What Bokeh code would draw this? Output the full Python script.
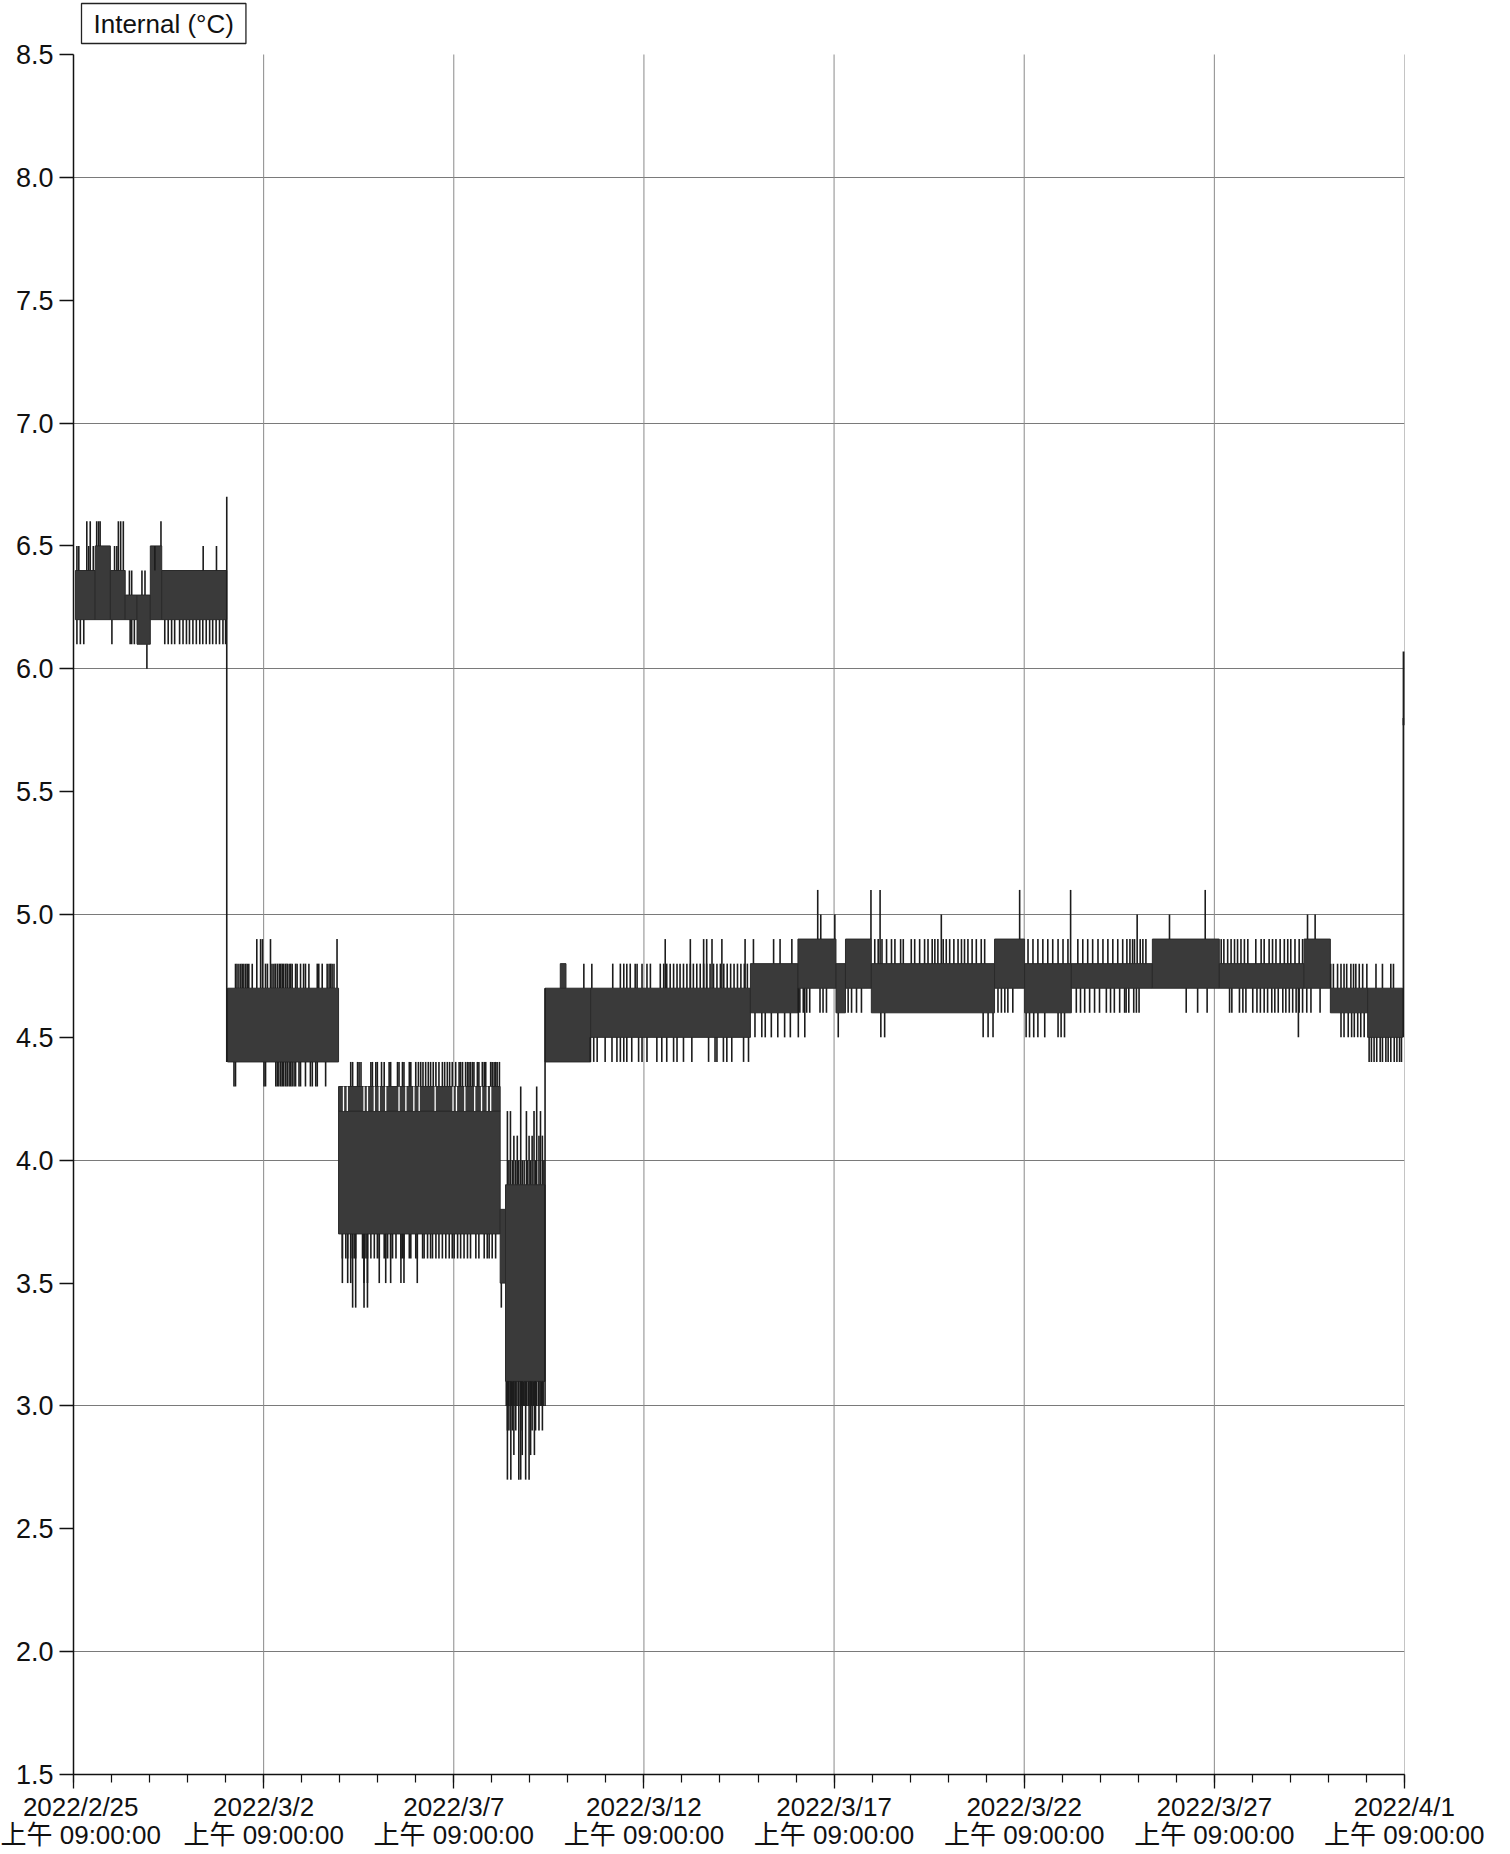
from bokeh.plotting import figure
from bokeh.models import Range1d, FixedTicker, Label, PrintfTickFormatter
from bokeh.embed import file_html
from bokeh.resources import INLINE

# ---------------- axis labels ----------------
tick_days = [0, 5, 10, 15, 20, 25, 30, 35]          # days after 2022/2/25 09:00
tick_dates = ["2022/2/25", "2022/3/2", "2022/3/7", "2022/3/12",
              "2022/3/17", "2022/3/22", "2022/3/27", "2022/4/1"]
tick_time = "上午 09:00:00"
minor_days = list(range(0, 36))
y_ticks = [1.5, 2.0, 2.5, 3.0, 3.5, 4.0, 4.5, 5.0, 5.5, 6.0, 6.5, 7.0, 7.5, 8.0, 8.5]
y_grid = [2.0, 3.0, 4.0, 5.0, 6.0, 7.0, 8.0]
series_name = "Internal (°C)"

# ---------------- dense bands of readings (day start, day end, low °C, high °C) ----------------
band_start = [0.05, 0.57, 0.97, 1.36, 1.67, 2.02, 2.32, 4.05, 6.97, 6.97, 11.22, 11.36,
              12.40, 12.80, 13.60, 17.80, 19.05, 20.05, 20.30, 20.98, 24.22, 25.01,
              26.24, 28.37, 30.13, 32.36, 33.05, 34.03]
band_end = [0.57, 0.97, 1.36, 1.67, 2.02, 2.32, 4.03, 6.97, 11.22, 11.22, 11.36, 12.40,
            13.60, 12.95, 17.80, 19.05, 20.05, 20.30, 20.98, 24.22, 25.01, 26.24,
            28.37, 30.13, 32.36, 33.05, 34.03, 34.95]
band_low = [6.2, 6.2, 6.2, 6.2, 6.1, 6.2, 6.2, 4.4, 3.7, 4.2, 3.5, 3.1,
            4.4, 4.7, 4.5, 4.6, 4.7, 4.6, 4.7, 4.6, 4.7, 4.6,
            4.7, 4.7, 4.7, 4.7, 4.6, 4.5]
band_high = [6.4, 6.5, 6.4, 6.3, 6.3, 6.5, 6.4, 4.7, 4.2, 4.3, 3.8, 3.9,
             4.7, 4.8, 4.7, 4.8, 4.9, 4.8, 4.9, 4.8, 4.9, 4.8,
             4.8, 4.9, 4.8, 4.9, 4.7, 4.7]

# short drops inside the 4.2-4.3 strip of 3/4 - 3/8 (day, low, high)
gap_day = [7.10, 7.20, 7.64, 7.73, 7.91, 8.04, 8.21, 8.56, 8.74, 8.95, 9.09, 9.51,
           9.98, 10.07, 10.29, 10.55, 10.73, 10.88, 10.97]
gap_low = [4.2] * 19
gap_high = [4.3] * 19

# ---------------- single excursions: (from °C, to °C, days) ----------------
spike_groups = [
    # 2/25 - 3/1
    (6.4, 6.6, [0.35, 0.44, 1.18, 1.24, 1.31]),
    (6.5, 6.6, [0.61, 0.66, 0.70, 2.30]),
    (6.4, 6.5, [0.09, 0.14, 0.40, 0.52, 1.08, 1.14, 2.14, 3.41, 3.76]),
    (6.3, 6.4, [1.47, 1.53, 1.80, 1.88]),
    (6.2, 6.1, [0.09, 0.18, 0.27, 1.01, 1.49, 1.53, 1.60, 2.40, 2.49, 2.58, 2.66, 2.79,
                2.88, 2.97, 3.05, 3.14, 3.23, 3.32, 3.40, 3.49, 3.58, 3.66, 3.75, 3.84,
                3.93, 4.00]),
    (6.1, 6.0, [1.93]),
    (4.4, 6.7, [4.03]),
    # 3/1 - 3/4
    (4.7, 4.9, [4.82, 4.92, 4.97, 5.18, 6.93]),
    (4.7, 4.8, [4.26, 4.30, 4.35, 4.40, 4.44, 4.48, 4.53, 4.57, 4.61, 4.70, 5.05, 5.10,
                5.22, 5.27, 5.31, 5.36, 5.41, 5.45, 5.49, 5.53, 5.58, 5.62, 5.67, 5.71,
                5.75, 5.84, 5.88, 5.97, 6.05, 6.10, 6.19, 6.41, 6.45, 6.54, 6.67, 6.72,
                6.76, 6.80, 6.85]),
    (4.4, 4.3, [4.22, 4.26, 5.01, 5.05, 5.32, 5.36, 5.40, 5.45, 5.49, 5.53, 5.58, 5.62,
                5.67, 5.71, 5.75, 5.80, 5.84, 5.93, 5.97, 6.10, 6.23, 6.28, 6.37, 6.41,
                6.63]),
    # 3/4 - 3/8
    (4.3, 4.4, [7.29, 7.34, 7.47, 7.51, 7.56, 7.82, 7.86, 7.95, 7.99, 8.10, 8.17, 8.30,
                8.34, 8.52, 8.56, 8.65, 8.69, 8.83, 8.87, 9.00, 9.07, 9.13, 9.19, 9.26,
                9.33, 9.39, 9.46, 9.53, 9.61, 9.70, 9.76, 9.83, 9.89, 9.96, 10.05, 10.14,
                10.18, 10.23, 10.31, 10.36, 10.40, 10.44, 10.49, 10.53, 10.62, 10.66,
                10.75, 10.80, 10.84, 10.97, 11.01, 11.06, 11.10, 11.14, 11.20]),
    (3.7, 3.6, [7.07, 7.16, 7.21, 7.29, 7.38, 7.42, 7.60, 7.64, 7.69, 7.73, 7.82, 7.91,
                7.99, 8.04, 8.17, 8.21, 8.26, 8.34, 8.39, 8.48, 8.61, 8.65, 8.69, 8.83,
                8.87, 9.00, 9.04, 9.18, 9.22, 9.31, 9.39, 9.44, 9.53, 9.61, 9.70, 9.79,
                9.88, 9.96, 10.01, 10.10, 10.18, 10.27, 10.36, 10.44, 10.58, 10.66,
                10.80, 10.88, 10.93, 11.01, 11.10]),
    (3.7, 3.5, [7.07, 7.21, 7.29, 7.64, 7.73, 8.04, 8.21, 8.34, 8.61, 8.69, 9.04]),
    (3.7, 3.4, [7.34, 7.42, 7.64, 7.73]),
    # 3/8 - 3/9
    (3.5, 3.4, [11.25]),
    (3.9, 4.0, [11.45, 11.54, 11.63, 11.71, 11.80, 11.85, 11.93, 12.02, 12.15, 12.37]),
    (3.9, 4.1, [11.58, 11.67, 11.98, 12.06, 12.24, 12.33]),
    (3.9, 4.2, [11.41, 11.49, 11.91, 12.11, 12.28]),
    (3.9, 4.3, [11.76, 12.18]),
    (3.1, 3.0, [11.38, 11.43, 11.48, 11.52, 11.57, 11.61, 11.66, 11.70, 11.75, 11.78,
                11.84, 11.87, 11.92, 11.96, 12.01, 12.04, 12.09, 12.14, 12.17, 12.22,
                12.27, 12.30, 12.35]),
    (3.1, 2.9, [11.41, 11.45, 11.54, 11.63, 11.80, 12.06, 12.15, 12.24, 12.33]),
    (3.1, 2.8, [11.58, 11.80, 12.02, 12.12]),
    (3.1, 2.7, [11.41, 11.50, 11.71, 11.76, 11.89, 11.98]),
    (3.0, 4.7, [12.40]),
    # 3/9 - 3/16
    (4.7, 4.8, [13.42, 13.63, 14.18, 14.38, 14.47, 14.55, 14.64, 14.77, 14.82, 14.95,
                15.08, 15.17, 15.43, 15.52, 15.60, 15.69, 15.78, 15.87, 15.95, 16.04,
                16.13, 16.22, 16.30, 16.39, 16.48, 16.57, 16.65, 16.74, 16.83, 16.92,
                17.01, 17.10, 17.19, 17.28, 17.37, 17.46, 17.55, 17.64, 17.72]),
    (4.7, 4.9, [15.56, 16.22, 16.57, 16.65, 16.79, 17.05, 17.66]),
    (4.8, 4.9, [17.88, 18.41, 18.58, 18.89]),
    (4.5, 4.4, [13.59, 13.68, 13.77, 13.98, 14.16, 14.29, 14.38, 14.47, 14.55, 14.68,
                14.86, 14.95, 15.08, 15.34, 15.47, 15.60, 15.78, 15.87, 16.04, 16.26,
                16.70, 16.87, 16.92, 17.09, 17.18, 17.31, 17.62, 17.75]),
    (4.6, 4.5, [17.92, 18.10, 18.19, 18.35, 18.52, 18.70, 18.85]),
    # 3/16 - 3/28
    (4.9, 5.1, [19.57, 20.97, 24.88]),
    (4.8, 5.1, [21.21, 26.22]),
    (4.9, 5.0, [19.65, 20.02]),
    (4.8, 5.0, [22.82]),
    (4.7, 4.5, [19.06, 19.23]),
    (4.6, 4.5, [20.11, 21.23, 21.33, 23.92, 24.05, 24.18, 25.05, 25.14, 25.25, 25.36,
                25.54, 25.89, 25.97, 26.06]),
    (4.8, 4.9, [21.07, 21.16, 21.26, 21.38, 21.51, 21.60, 21.75, 21.82, 22.03, 22.12,
                22.25, 22.38, 22.47, 22.58, 22.65, 22.73, 22.87, 22.95, 23.04, 23.15,
                23.26, 23.35, 23.43, 23.52, 23.63, 23.74, 23.87, 23.96, 25.10, 25.23,
                25.36, 25.49, 25.62, 25.75, 25.89, 26.02, 26.15, 26.41, 26.54, 26.67,
                26.80, 26.94, 27.07, 27.20, 27.33, 27.46, 27.59, 27.70, 27.78, 27.85,
                27.90, 28.05, 28.12, 28.20]),
    (4.7, 4.6, [19.10, 19.19, 19.28, 19.36, 19.63, 19.71, 19.80, 20.37, 20.46, 20.59,
                20.72, 24.31, 24.40, 24.49, 24.57, 24.70, 26.37, 26.48, 26.59, 26.72,
                26.85, 26.98, 27.16, 27.27, 27.37, 27.51, 27.64, 27.68, 27.75, 27.88,
                27.95, 28.02]),
    # 3/28 - 4/1
    (4.8, 5.0, [27.97]),
    (4.9, 5.0, [28.82, 32.45, 32.65]),
    (4.9, 5.1, [29.76]),
    (4.7, 4.6, [29.26, 29.56, 29.81, 30.40, 30.46, 30.66, 30.75, 30.83, 31.01, 31.12,
                31.21, 31.31, 31.40, 31.51, 31.59, 31.68, 31.80, 31.88, 31.97, 32.06,
                32.15, 32.23, 32.32, 32.43, 32.54, 32.78]),
    (4.7, 4.5, [32.21]),
    (4.8, 4.9, [30.18, 30.25, 30.35, 30.44, 30.53, 30.61, 30.70, 30.79, 30.88, 31.09,
                31.23, 31.31, 31.44, 31.53, 31.62, 31.73, 31.84, 31.93, 32.01, 32.12,
                32.23, 32.32]),
    (4.7, 4.8, [33.06, 33.13, 33.24, 33.33, 33.41, 33.48, 33.59, 33.66, 33.72, 33.81,
                33.90, 34.01, 34.25, 34.42, 34.64, 34.71]),
    (4.6, 4.5, [33.33, 33.41, 33.52, 33.61, 33.68, 33.77, 33.85, 33.94]),
    (4.5, 4.4, [34.07, 34.13, 34.20, 34.27, 34.36, 34.42, 34.51, 34.57, 34.64, 34.73,
                34.80, 34.87, 34.92]),
    (4.5, 5.8, [34.97]),
]
# last readings on 4/1
end_day = [34.99]
end_low = [5.77]
end_high = [6.07]

# ---------------- build figure ----------------
spike_x, spike_from, spike_to = [], [], []
for lo, hi, days in spike_groups:
    for d in days:
        spike_x.append(d)
        spike_from.append(lo)
        spike_to.append(hi)

FONT = "'Liberation Sans', 'Noto Sans CJK SC', sans-serif"

PLOT_H = 1720            # pixels between 1.5 and 8.5
HEAD = 54                # pixels above 8.5 kept inside the frame for the series box
y_top = y_ticks[-1] + HEAD * (y_ticks[-1] - y_ticks[0]) / PLOT_H

p = figure(frame_width=1331, frame_height=PLOT_H + HEAD,
           x_range=Range1d(tick_days[0], tick_days[-1]), y_range=Range1d(y_ticks[0], y_top),
           output_backend="svg", toolbar_location=None,
           min_border_left=73, min_border_top=0, min_border_right=80,
           min_border_bottom=66)
p.outline_line_color = None
p.background_fill_color = "white"
p.border_fill_color = "white"

# vertical grid lines (only between 1.5 and 8.5)
p.segment(x0=tick_days, y0=[y_ticks[0]] * len(tick_days), x1=tick_days,
          y1=[y_ticks[-1]] * len(tick_days), line_color="#8a8a8a", line_width=1)

p.quad(left=band_start, right=band_end, bottom=band_low, top=band_high,
       fill_color="#3a3a3a", line_color="#2a2a2a", line_width=1)
p.segment(x0=gap_day, y0=gap_low, x1=gap_day, y1=gap_high,
          line_color="white", line_width=1.3)
p.segment(x0=spike_x, y0=spike_from, x1=spike_x, y1=spike_to,
          line_color="#1c1c1c", line_width=1.6)
p.segment(x0=end_day, y0=end_low, x1=end_day, y1=end_high,
          line_color="#1c1c1c", line_width=3)

# x axis
xa = p.xaxis[0]
xa.ticker = FixedTicker(ticks=tick_days, minor_ticks=minor_days)
xa.major_label_overrides = {d: f"{s}\n{tick_time}" for d, s in zip(tick_days, tick_dates)}
xa.major_label_text_font = FONT
xa.major_label_text_font_size = "26px"
xa.major_label_text_line_height = 0.95
xa.major_label_text_color = "#111111"
xa.major_label_standoff = 3
xa.major_tick_out = 14
xa.major_tick_in = 0
xa.minor_tick_out = 8
xa.minor_tick_in = 0
xa.axis_line_color = "#111111"
xa.axis_line_width = 1.5
xa.major_tick_line_color = "#111111"
xa.minor_tick_line_color = "#111111"
xa.major_tick_line_width = 1.3
xa.minor_tick_line_width = 1.2

# y axis
ya = p.yaxis[0]
ya.bounds = (y_ticks[0], y_ticks[-1])
ya.ticker = FixedTicker(ticks=y_ticks, minor_ticks=[])
ya.formatter = PrintfTickFormatter(format="%.1f")
ya.major_label_text_font = FONT
ya.major_label_text_font_size = "27px"
ya.major_label_text_color = "#111111"
ya.major_label_standoff = 6
ya.major_tick_out = 14
ya.major_tick_in = 0
ya.minor_tick_line_color = None
ya.axis_line_color = "#111111"
ya.axis_line_width = 1.5
ya.major_tick_line_color = "#111111"
ya.major_tick_line_width = 1.3

# grids
p.xgrid.grid_line_color = None
p.ygrid.ticker = FixedTicker(ticks=y_grid)
p.ygrid.grid_line_color = "#7a7a7a"
p.ygrid.grid_line_width = 1.2

# series box at top left
lab = Label(x=tick_days[0], y=y_ticks[-1], x_offset=8, y_offset=31, text=series_name,
            text_font=FONT, text_font_size="26px", text_color="#111111",
            text_baseline="middle", text_align="left",
            border_line_color="#222222", border_line_width=1.3,
            background_fill_color="white")
try:
    lab.padding = dict(left=12, right=12, top=5, bottom=5)
except Exception:
    lab.padding = 6
p.add_layout(lab)

open("out.html", "w").write(file_html(p, INLINE))
